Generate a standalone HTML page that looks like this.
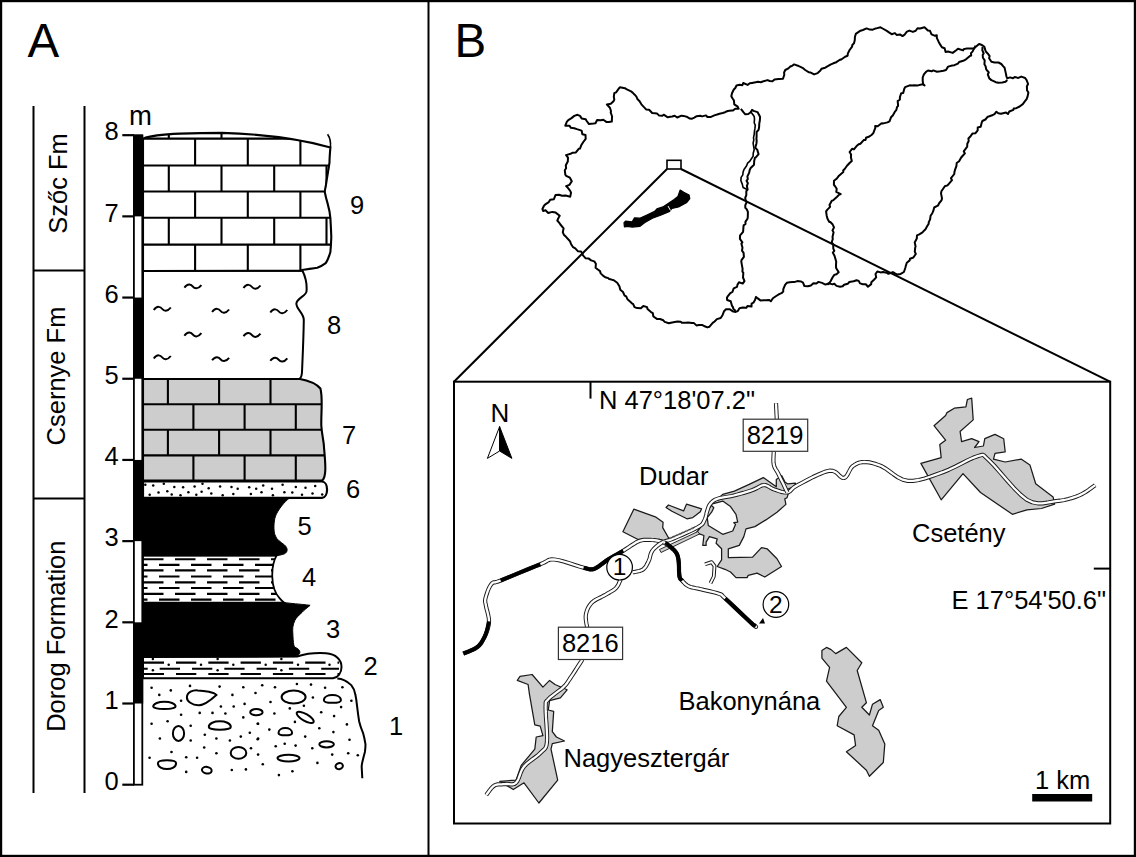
<!DOCTYPE html>
<html><head><meta charset="utf-8"><style>
html,body{margin:0;padding:0;background:#fff;}
svg{display:block;}
</style></head><body>
<svg width="1136" height="857" viewBox="0 0 1136 857">
<rect width="1136" height="857" fill="#fff"/>
<rect x="1" y="1" width="1134" height="855" fill="none" stroke="#000" stroke-width="2.4"/>
<line x1="428.5" y1="0" x2="428.5" y2="857" stroke="#000" stroke-width="2"/>
<text x="27.5" y="57.2" font-family="Liberation Sans, sans-serif" font-size="47.5">A</text>
<text x="454.5" y="57.2" font-family="Liberation Sans, sans-serif" font-size="47.5">B</text>
<g stroke="#000" stroke-width="2" fill="none">
<line x1="33.5" y1="106" x2="33.5" y2="793"/>
<line x1="84.5" y1="106" x2="84.5" y2="793"/>
<line x1="33.5" y1="270.5" x2="84.5" y2="270.5"/>
<line x1="33.5" y1="498.5" x2="84.5" y2="498.5"/>
</g>
<text transform="translate(67.4,183.5) rotate(-90)" text-anchor="middle" font-family="Liberation Sans, sans-serif" font-size="25.5">Szőc Fm</text>
<text transform="translate(65,376) rotate(-90)" text-anchor="middle" font-family="Liberation Sans, sans-serif" font-size="25.5">Csernye Fm</text>
<text transform="translate(65,636.2) rotate(-90)" text-anchor="middle" font-family="Liberation Sans, sans-serif" font-size="25.5">Dorog Formation</text>
<path d="M337.3,678.6 C345,679 349,683 351.4,685.3 C354.5,689 355.3,694.3 355.3,694.3 C356.5,700 357.2,707.1 357.2,707.1 C358,714 359.1,721.2 359.1,721.2 C360.5,727 363,732.8 363,732.8 C364.5,738 365.5,744.3 365.5,744.3 C365.5,748 364.9,752 364.9,752 C363.5,757 362.3,762.3 362.3,762.3 C361.5,766 361.7,767.4 361.7,767.4 L362.3,778.3" fill="none" stroke="#000" stroke-width="2"/>
<path d="M153.20000000000002,706.58 C153.20000000000002,700.1400000000001 175.6,700.1400000000001 175.6,706.58 C175.6,709.8000000000001 153.20000000000002,709.8000000000001 153.20000000000002,706.58 Z" transform="rotate(0 164.4 705.2)" fill="#fff" stroke="#000" stroke-width="2.0"/>
<path d="M186.9,697.5 C187,692 193,690 197.8,690.4 C205,690.6 214,692.5 216.4,694.9 C213,698 205,705 199,705.2 C192,705.5 186.8,701 186.9,697.5 Z" fill="#fff" stroke="#000" stroke-width="2.0"/>
<path d="M208.8,726.89 C208.8,719.4699999999999 230.8,719.4699999999999 230.8,726.89 C230.8,730.5999999999999 208.8,730.5999999999999 208.8,726.89 Z" transform="rotate(0 219.8 725.3)" fill="#fff" stroke="#000" stroke-width="2.0"/>
<ellipse cx="178.5" cy="733.4" rx="5.6" ry="7.5" transform="rotate(0 178.5 733.4)" fill="#fff" stroke="#000" stroke-width="2.0"/>
<ellipse cx="238.5" cy="752.9" rx="7.8" ry="5.9" transform="rotate(0 238.5 752.9)" fill="#fff" stroke="#000" stroke-width="2.0"/>
<path d="M157.9,763.22 C157.9,771.06 176.1,771.06 176.1,763.22 C176.1,759.3 157.9,759.3 157.9,763.22 Z" transform="rotate(0 167 764.9)" fill="#fff" stroke="#000" stroke-width="2.0"/>
<ellipse cx="206.8" cy="770.2" rx="4.9" ry="3.3" transform="rotate(10 206.8 770.2)" fill="#fff" stroke="#000" stroke-width="2.0"/>
<ellipse cx="293.6" cy="697.1" rx="12" ry="6.5" transform="rotate(0 293.6 697.1)" fill="#fff" stroke="#000" stroke-width="2.0"/>
<path d="M323.9,700.2 C323.9,693.2 340.9,693.2 340.9,700.2 C340.9,703.7 323.9,703.7 323.9,700.2 Z" transform="rotate(0 332.4 698.7)" fill="#fff" stroke="#000" stroke-width="2.0"/>
<ellipse cx="256.4" cy="712.2" rx="6.2" ry="3.1" transform="rotate(0 256.4 712.2)" fill="#fff" stroke="#000" stroke-width="2.0"/>
<ellipse cx="305.2" cy="717.4" rx="9.6" ry="3.4" transform="rotate(30 305.2 717.4)" fill="#fff" stroke="#000" stroke-width="2.0"/>
<path d="M278.5,732.88 C278.5,726.44 292.1,726.44 292.1,732.88 C292.1,736.1 278.5,736.1 278.5,732.88 Z" transform="rotate(0 285.3 731.5)" fill="#fff" stroke="#000" stroke-width="2.0"/>
<ellipse cx="326.6" cy="744.3" rx="7.3" ry="3.1" transform="rotate(0 326.6 744.3)" fill="#fff" stroke="#000" stroke-width="2.0"/>
<ellipse cx="288.5" cy="758.1" rx="11" ry="3.4" transform="rotate(0 288.5 758.1)" fill="#fff" stroke="#000" stroke-width="2.0"/>
<ellipse cx="339.2" cy="766.1" rx="3.7" ry="3.0" transform="rotate(-15 339.2 766.1)" fill="#fff" stroke="#000" stroke-width="2.0"/>
<circle cx="151.6" cy="687.8" r="1.3" fill="#000"/>
<circle cx="170.8" cy="690.4" r="1.3" fill="#000"/>
<circle cx="190" cy="685.9" r="1.3" fill="#000"/>
<circle cx="219.6" cy="686.6" r="1.3" fill="#000"/>
<circle cx="243.3" cy="687.2" r="1.3" fill="#000"/>
<circle cx="159.3" cy="694.9" r="1.3" fill="#000"/>
<circle cx="232.4" cy="694.9" r="1.3" fill="#000"/>
<circle cx="255.5" cy="693" r="1.3" fill="#000"/>
<circle cx="181.1" cy="700.7" r="1.3" fill="#000"/>
<circle cx="220.9" cy="706.5" r="1.3" fill="#000"/>
<circle cx="233.7" cy="706.5" r="1.3" fill="#000"/>
<circle cx="244.6" cy="703.9" r="1.3" fill="#000"/>
<circle cx="181.1" cy="714.8" r="1.3" fill="#000"/>
<circle cx="199.7" cy="712.9" r="1.3" fill="#000"/>
<circle cx="212.5" cy="712.9" r="1.3" fill="#000"/>
<circle cx="225.4" cy="713.5" r="1.3" fill="#000"/>
<circle cx="243.3" cy="717.4" r="1.3" fill="#000"/>
<circle cx="151.6" cy="723.8" r="1.3" fill="#000"/>
<circle cx="167.6" cy="721.2" r="1.3" fill="#000"/>
<circle cx="190.7" cy="725.7" r="1.3" fill="#000"/>
<circle cx="258.1" cy="723.8" r="1.3" fill="#000"/>
<circle cx="159.9" cy="738.5" r="1.3" fill="#000"/>
<circle cx="204.8" cy="734.7" r="1.3" fill="#000"/>
<circle cx="190.7" cy="740.5" r="1.3" fill="#000"/>
<circle cx="216.4" cy="738.5" r="1.3" fill="#000"/>
<circle cx="229.9" cy="740.5" r="1.3" fill="#000"/>
<circle cx="240.8" cy="736.6" r="1.3" fill="#000"/>
<circle cx="249.8" cy="732.8" r="1.3" fill="#000"/>
<circle cx="258.1" cy="738.5" r="1.3" fill="#000"/>
<circle cx="204.2" cy="747.5" r="1.3" fill="#000"/>
<circle cx="171.5" cy="752" r="1.3" fill="#000"/>
<circle cx="216.4" cy="753.3" r="1.3" fill="#000"/>
<circle cx="251" cy="748.2" r="1.3" fill="#000"/>
<circle cx="258.1" cy="754.6" r="1.3" fill="#000"/>
<circle cx="149.6" cy="757.8" r="1.3" fill="#000"/>
<circle cx="186.2" cy="757.2" r="1.3" fill="#000"/>
<circle cx="197.1" cy="757.8" r="1.3" fill="#000"/>
<circle cx="186.2" cy="771.9" r="1.3" fill="#000"/>
<circle cx="231.8" cy="770" r="1.3" fill="#000"/>
<circle cx="245.9" cy="769.4" r="1.3" fill="#000"/>
<circle cx="262.2" cy="685.3" r="1.3" fill="#000"/>
<circle cx="275" cy="687.2" r="1.3" fill="#000"/>
<circle cx="296.9" cy="684" r="1.3" fill="#000"/>
<circle cx="311" cy="684.6" r="1.3" fill="#000"/>
<circle cx="325.1" cy="687.8" r="1.3" fill="#000"/>
<circle cx="342.4" cy="687.2" r="1.3" fill="#000"/>
<circle cx="312.9" cy="697.5" r="1.3" fill="#000"/>
<circle cx="351.4" cy="700.7" r="1.3" fill="#000"/>
<circle cx="270.5" cy="702" r="1.3" fill="#000"/>
<circle cx="303.9" cy="705.8" r="1.3" fill="#000"/>
<circle cx="289.8" cy="708.4" r="1.3" fill="#000"/>
<circle cx="341.1" cy="707.1" r="1.3" fill="#000"/>
<circle cx="274.4" cy="713.5" r="1.3" fill="#000"/>
<circle cx="321.2" cy="712.2" r="1.3" fill="#000"/>
<circle cx="334.1" cy="716.1" r="1.3" fill="#000"/>
<circle cx="257.7" cy="723.8" r="1.3" fill="#000"/>
<circle cx="294.9" cy="721.9" r="1.3" fill="#000"/>
<circle cx="346.9" cy="724.4" r="1.3" fill="#000"/>
<circle cx="269.3" cy="729.6" r="1.3" fill="#000"/>
<circle cx="319.3" cy="728.3" r="1.3" fill="#000"/>
<circle cx="333.4" cy="732.1" r="1.3" fill="#000"/>
<circle cx="257.7" cy="739.2" r="1.3" fill="#000"/>
<circle cx="305.2" cy="736.6" r="1.3" fill="#000"/>
<circle cx="349.5" cy="739.8" r="1.3" fill="#000"/>
<circle cx="275.7" cy="746.2" r="1.3" fill="#000"/>
<circle cx="284.7" cy="743.7" r="1.3" fill="#000"/>
<circle cx="295.6" cy="745.6" r="1.3" fill="#000"/>
<circle cx="312.3" cy="748.2" r="1.3" fill="#000"/>
<circle cx="332.2" cy="754.6" r="1.3" fill="#000"/>
<circle cx="348.2" cy="753.3" r="1.3" fill="#000"/>
<circle cx="357.8" cy="755.2" r="1.3" fill="#000"/>
<circle cx="262.8" cy="764.2" r="1.3" fill="#000"/>
<circle cx="317.4" cy="762.9" r="1.3" fill="#000"/>
<circle cx="292.4" cy="771.3" r="1.3" fill="#000"/>
<circle cx="278.9" cy="775.1" r="1.3" fill="#000"/>
<path d="M143,657 L297,656.5 C305,654 318,652.8 326,653.3 C336,654 341.5,660 341.5,667 C341.5,673 338,677.3 333,678.3 L143,678.3 Z" fill="#fff" stroke="#000" stroke-width="2"/>
<clipPath id="c2"><path d="M143,657 L297,656.5 C305,654 318,652.8 326,653.3 C336,654 341.5,660 341.5,667 C341.5,673 338,677.3 333,678.3 L143,678.3 Z"/></clipPath>
<g stroke="#000" stroke-width="2.1" clip-path="url(#c2)">
<line x1="143.7" y1="662.6" x2="164.0" y2="662.6"/>
<line x1="176.0" y1="662.6" x2="196.3" y2="662.6"/>
<line x1="208.3" y1="662.6" x2="228.6" y2="662.6"/>
<line x1="240.6" y1="662.6" x2="260.9" y2="662.6"/>
<line x1="272.9" y1="662.6" x2="293.2" y2="662.6"/>
<line x1="305.2" y1="662.6" x2="325.5" y2="662.6"/>
<line x1="337.5" y1="662.6" x2="339.0" y2="662.6"/>
<line x1="143.0" y1="668.7" x2="147.7" y2="668.7"/>
<line x1="159.7" y1="668.7" x2="180.0" y2="668.7"/>
<line x1="192.0" y1="668.7" x2="212.3" y2="668.7"/>
<line x1="224.3" y1="668.7" x2="244.6" y2="668.7"/>
<line x1="256.6" y1="668.7" x2="276.9" y2="668.7"/>
<line x1="288.9" y1="668.7" x2="309.2" y2="668.7"/>
<line x1="321.2" y1="668.7" x2="339.0" y2="668.7"/>
<line x1="143.7" y1="674" x2="164.0" y2="674"/>
<line x1="176.0" y1="674" x2="196.3" y2="674"/>
<line x1="208.3" y1="674" x2="228.6" y2="674"/>
<line x1="240.6" y1="674" x2="260.9" y2="674"/>
<line x1="272.9" y1="674" x2="293.2" y2="674"/>
<line x1="305.2" y1="674" x2="325.5" y2="674"/>
<line x1="337.5" y1="674" x2="339.0" y2="674"/>
</g>
<circle cx="152.9" cy="658.9" r="1.25" fill="#000"/>
<circle cx="217.6" cy="658.9" r="1.25" fill="#000"/>
<circle cx="281.4" cy="658.9" r="1.25" fill="#000"/>
<circle cx="168.7" cy="664.8" r="1.25" fill="#000"/>
<circle cx="201" cy="664.8" r="1.25" fill="#000"/>
<circle cx="233.3" cy="664.8" r="1.25" fill="#000"/>
<circle cx="265.7" cy="664.8" r="1.25" fill="#000"/>
<circle cx="298" cy="664.8" r="1.25" fill="#000"/>
<circle cx="329.5" cy="664.8" r="1.25" fill="#000"/>
<circle cx="152.9" cy="670.3" r="1.25" fill="#000"/>
<circle cx="217.6" cy="670.3" r="1.25" fill="#000"/>
<circle cx="281.4" cy="670.3" r="1.25" fill="#000"/>
<path d="M143,602.4 L283.6,602.4 C290,603.5 300,604 310.1,605.3 C307,608 304,610 302,612.4 C298,616 296,618 294.8,620.6 C292.5,625 292.5,630 292.8,632.9 C293,638 293.3,642 293.8,645.1 C294.3,647 295.5,647.5 296.8,648.2 C299.5,649.5 300.5,652 299.5,653.8 C298.5,655.2 296,656.3 294.8,656.6 L143,657 Z" fill="#000" stroke="#000" stroke-width="1"/>
<path d="M143,555.6 L276.5,555.6 C273,562 272,570 272.3,577 C272.5,586 274,592 279.5,598.2 C281,600 282.5,601.5 284,602.6 L143,602.6 Z" fill="#fff" stroke="#000" stroke-width="1.8"/>
<clipPath id="c4"><path d="M143,555.6 L276.5,555.6 C273,562 272,570 272.3,577 C272.5,586 274,592 279.5,598.2 C281,600 282.5,601.5 284,602.6 L143,602.6 Z"/></clipPath>
<g stroke="#000" stroke-width="2.1" clip-path="url(#c4)">
<line x1="143" y1="559.3" x2="163.5" y2="559.3"/>
<line x1="175" y1="559.3" x2="195.5" y2="559.3"/>
<line x1="207" y1="559.3" x2="227.5" y2="559.3"/>
<line x1="239" y1="559.3" x2="259.5" y2="559.3"/>
<line x1="271" y1="559.3" x2="291.5" y2="559.3"/>
<line x1="143" y1="564.9" x2="147.5" y2="564.9"/>
<line x1="159" y1="564.9" x2="179.5" y2="564.9"/>
<line x1="191" y1="564.9" x2="211.5" y2="564.9"/>
<line x1="223" y1="564.9" x2="243.5" y2="564.9"/>
<line x1="255" y1="564.9" x2="275.5" y2="564.9"/>
<line x1="143" y1="570.4" x2="163.5" y2="570.4"/>
<line x1="175" y1="570.4" x2="195.5" y2="570.4"/>
<line x1="207" y1="570.4" x2="227.5" y2="570.4"/>
<line x1="239" y1="570.4" x2="259.5" y2="570.4"/>
<line x1="271" y1="570.4" x2="291.5" y2="570.4"/>
<line x1="143" y1="576.5" x2="147.5" y2="576.5"/>
<line x1="159" y1="576.5" x2="179.5" y2="576.5"/>
<line x1="191" y1="576.5" x2="211.5" y2="576.5"/>
<line x1="223" y1="576.5" x2="243.5" y2="576.5"/>
<line x1="255" y1="576.5" x2="275.5" y2="576.5"/>
<line x1="143" y1="582.4" x2="163.5" y2="582.4"/>
<line x1="175" y1="582.4" x2="195.5" y2="582.4"/>
<line x1="207" y1="582.4" x2="227.5" y2="582.4"/>
<line x1="239" y1="582.4" x2="259.5" y2="582.4"/>
<line x1="271" y1="582.4" x2="291.5" y2="582.4"/>
<line x1="143" y1="588" x2="147.5" y2="588"/>
<line x1="159" y1="588" x2="179.5" y2="588"/>
<line x1="191" y1="588" x2="211.5" y2="588"/>
<line x1="223" y1="588" x2="243.5" y2="588"/>
<line x1="255" y1="588" x2="275.5" y2="588"/>
<line x1="143" y1="593.9" x2="163.5" y2="593.9"/>
<line x1="175" y1="593.9" x2="195.5" y2="593.9"/>
<line x1="207" y1="593.9" x2="227.5" y2="593.9"/>
<line x1="239" y1="593.9" x2="259.5" y2="593.9"/>
<line x1="271" y1="593.9" x2="291.5" y2="593.9"/>
<line x1="143" y1="599.6" x2="147.5" y2="599.6"/>
<line x1="159" y1="599.6" x2="179.5" y2="599.6"/>
<line x1="191" y1="599.6" x2="211.5" y2="599.6"/>
<line x1="223" y1="599.6" x2="243.5" y2="599.6"/>
<line x1="255" y1="599.6" x2="275.5" y2="599.6"/>
</g>
<path d="M143,497.6 L290,497.6 C284,502 278,510 275.5,516 C273.5,522 273.5,531 275,535 C276.5,540 281,542 284.5,545 C288,548 288,552 284.5,553.8 C281,555 278.5,555.4 276.5,555.8 L143,555.8 Z" fill="#000" stroke="#000" stroke-width="1"/>
<path d="M143,481.5 L322,481.5 C329,482 328.5,497.5 322,497.9 L143,497.9 Z" fill="#fff" stroke="#000" stroke-width="2.2"/>
<circle cx="145.3" cy="484.7" r="1.25" fill="#000"/>
<circle cx="153.2" cy="485.6" r="1.25" fill="#000"/>
<circle cx="163.8" cy="483.8" r="1.25" fill="#000"/>
<circle cx="174.3" cy="487" r="1.25" fill="#000"/>
<circle cx="183.1" cy="487.3" r="1.25" fill="#000"/>
<circle cx="194.6" cy="486.4" r="1.25" fill="#000"/>
<circle cx="202.5" cy="483.8" r="1.25" fill="#000"/>
<circle cx="208.7" cy="488.2" r="1.25" fill="#000"/>
<circle cx="220.1" cy="486.4" r="1.25" fill="#000"/>
<circle cx="231.5" cy="487" r="1.25" fill="#000"/>
<circle cx="237.7" cy="488.7" r="1.25" fill="#000"/>
<circle cx="249.2" cy="487.3" r="1.25" fill="#000"/>
<circle cx="256.2" cy="488.7" r="1.25" fill="#000"/>
<circle cx="263.2" cy="485.6" r="1.25" fill="#000"/>
<circle cx="272" cy="488.7" r="1.25" fill="#000"/>
<circle cx="282.6" cy="484.7" r="1.25" fill="#000"/>
<circle cx="295.8" cy="487" r="1.25" fill="#000"/>
<circle cx="305.5" cy="487.7" r="1.25" fill="#000"/>
<circle cx="315.2" cy="485.9" r="1.25" fill="#000"/>
<circle cx="149.7" cy="494.7" r="1.25" fill="#000"/>
<circle cx="158.5" cy="492.6" r="1.25" fill="#000"/>
<circle cx="167.3" cy="491.2" r="1.25" fill="#000"/>
<circle cx="171.7" cy="494.4" r="1.25" fill="#000"/>
<circle cx="180.5" cy="495.2" r="1.25" fill="#000"/>
<circle cx="188.4" cy="492.3" r="1.25" fill="#000"/>
<circle cx="196.3" cy="494.7" r="1.25" fill="#000"/>
<circle cx="201.6" cy="491.7" r="1.25" fill="#000"/>
<circle cx="211.3" cy="493.5" r="1.25" fill="#000"/>
<circle cx="222.7" cy="495.2" r="1.25" fill="#000"/>
<circle cx="233.3" cy="494" r="1.25" fill="#000"/>
<circle cx="250.9" cy="494" r="1.25" fill="#000"/>
<circle cx="261.5" cy="492.3" r="1.25" fill="#000"/>
<circle cx="272.9" cy="495.2" r="1.25" fill="#000"/>
<circle cx="284.4" cy="492.3" r="1.25" fill="#000"/>
<circle cx="292.3" cy="492.6" r="1.25" fill="#000"/>
<circle cx="302" cy="494.7" r="1.25" fill="#000"/>
<circle cx="312.5" cy="493.5" r="1.25" fill="#000"/>
<circle cx="322.2" cy="494.4" r="1.25" fill="#000"/>
<clipPath id="c7"><path d="M143,378.7 L299,378.7 C306,380 316,383 320.4,388.5 C323,398 321,412 321.3,425.5 C322,436 324,442 324,447.6 C325,458 326,468 325,473.5 C324.5,477 323,480 322,480.5 L143,480.5 Z"/></clipPath>
<path d="M143,378.7 L299,378.7 C306,380 316,383 320.4,388.5 C323,398 321,412 321.3,425.5 C322,436 324,442 324,447.6 C325,458 326,468 325,473.5 C324.5,477 323,480 322,480.5 L143,480.5 Z" fill="#cdcdcd" stroke="none"/>
<g stroke="#000" stroke-width="2.1" clip-path="url(#c7)">
<line x1="143" y1="404.2" x2="340" y2="404.2"/>
<line x1="143" y1="429.7" x2="340" y2="429.7"/>
<line x1="143" y1="455.4" x2="340" y2="455.4"/>
<line x1="167.9" y1="378.7" x2="167.9" y2="404.2"/>
<line x1="219.1" y1="378.7" x2="219.1" y2="404.2"/>
<line x1="270.5" y1="378.7" x2="270.5" y2="404.2"/>
<line x1="193.4" y1="404.2" x2="193.4" y2="429.7"/>
<line x1="244.6" y1="404.2" x2="244.6" y2="429.7"/>
<line x1="295.8" y1="404.2" x2="295.8" y2="429.7"/>
<line x1="167.9" y1="429.7" x2="167.9" y2="455.4"/>
<line x1="219.1" y1="429.7" x2="219.1" y2="455.4"/>
<line x1="270.5" y1="429.7" x2="270.5" y2="455.4"/>
<line x1="193.4" y1="455.4" x2="193.4" y2="480.5"/>
<line x1="244.6" y1="455.4" x2="244.6" y2="480.5"/>
<line x1="295.8" y1="455.4" x2="295.8" y2="480.5"/>
</g>
<path d="M143,378.7 L299,378.7 C306,380 316,383 320.4,388.5 C323,398 321,412 321.3,425.5 C322,436 324,442 324,447.6 C325,458 326,468 325,473.5 C324.5,477 323,480 322,480.5 L143,480.5 Z" fill="none" stroke="#000" stroke-width="2.1"/>
<path d="M143,270.7 L302.5,270.8 C305.5,277 307,286 306.5,291.5 C306,296 297,298 296.4,303.4 C296,309 303.8,313 303.8,320 C303.5,340 302.5,360 302,372 C301.8,376 300.5,378.5 299,379 L143,379 Z" fill="#fff" stroke="#000" stroke-width="2"/>
<path d="M184.4,287.6 C187.9,282.6 191.4,284.6 192.9,286.6 C194.4,288.6 197.9,289.6 201.4,285.1" fill="none" stroke="#000" stroke-width="2.0"/>
<path d="M243.5,288 C247,283 250.5,285 252,287 C253.5,289 257,290 260.5,285.5" fill="none" stroke="#000" stroke-width="2.0"/>
<path d="M153.8,310 C157.3,305 160.8,307 162.3,309 C163.8,311 167.3,312 170.8,307.5" fill="none" stroke="#000" stroke-width="2.0"/>
<path d="M212.1,312 C215.6,307 219.1,309 220.6,311 C222.1,313 225.6,314 229.1,309.5" fill="none" stroke="#000" stroke-width="2.0"/>
<path d="M270.3,312.5 C273.8,307.5 277.3,309.5 278.8,311.5 C280.3,313.5 283.8,314.5 287.3,310.0" fill="none" stroke="#000" stroke-width="2.0"/>
<path d="M184.4,335.7 C187.9,330.7 191.4,332.7 192.9,334.7 C194.4,336.7 197.9,337.7 201.4,333.2" fill="none" stroke="#000" stroke-width="2.0"/>
<path d="M243.5,336.2 C247,331.2 250.5,333.2 252,335.2 C253.5,337.2 257,338.2 260.5,333.7" fill="none" stroke="#000" stroke-width="2.0"/>
<path d="M153.8,358.5 C157.3,353.5 160.8,355.5 162.3,357.5 C163.8,359.5 167.3,360.5 170.8,356.0" fill="none" stroke="#000" stroke-width="2.0"/>
<path d="M212.1,360.3 C215.6,355.3 219.1,357.3 220.6,359.3 C222.1,361.3 225.6,362.3 229.1,357.8" fill="none" stroke="#000" stroke-width="2.0"/>
<path d="M270.3,360.8 C273.8,355.8 277.3,357.8 278.8,359.8 C280.3,361.8 283.8,362.8 287.3,358.3" fill="none" stroke="#000" stroke-width="2.0"/>
<clipPath id="c9"><path d="M143,138.6 C152,135 165,134.2 180,133.6 C195,133.1 210,132.9 222,132.9 C260,134 300,139 330.4,147.4 C330,152 329.5,158 329.5,162.3 C328.5,170 327.6,173.5 325.7,186.6 C324.8,190 324.8,192.2 324.8,192.2 C326,198 327.6,203.4 327.6,203.4 C330,212 330.4,218.4 330.4,218.4 C331,228 331.3,237 331.3,237 C331,246 330.4,252 330.4,252 C328,260 325.7,263.2 325.7,263.2 C322,266 317.3,267.8 317.3,267.8 C310,269 300.5,269.7 300.5,270.7 L143,271 Z"/></clipPath>
<path d="M143,138.6 C152,135 165,134.2 180,133.6 C195,133.1 210,132.9 222,132.9 C260,134 300,139 330.4,147.4 C330,152 329.5,158 329.5,162.3 C328.5,170 327.6,173.5 325.7,186.6 C324.8,190 324.8,192.2 324.8,192.2 C326,198 327.6,203.4 327.6,203.4 C330,212 330.4,218.4 330.4,218.4 C331,228 331.3,237 331.3,237 C331,246 330.4,252 330.4,252 C328,260 325.7,263.2 325.7,263.2 C322,266 317.3,267.8 317.3,267.8 C310,269 300.5,269.7 300.5,270.7 L143,271 Z" fill="#fff" stroke="none"/>
<g stroke="#000" stroke-width="2.1" clip-path="url(#c9)">
<line x1="143" y1="138.6" x2="340" y2="138.6"/>
<line x1="143" y1="165.5" x2="340" y2="165.5"/>
<line x1="143" y1="191.5" x2="340" y2="191.5"/>
<line x1="143" y1="217.7" x2="340" y2="217.7"/>
<line x1="143" y1="244.6" x2="340" y2="244.6"/>
<line x1="168.8" y1="125" x2="168.8" y2="138.9"/>
<line x1="221.5" y1="125" x2="221.5" y2="138.9"/>
<line x1="274.2" y1="125" x2="274.2" y2="138.9"/>
<line x1="195.1" y1="138.6" x2="195.1" y2="165.5"/>
<line x1="247.8" y1="138.6" x2="247.8" y2="165.5"/>
<line x1="300.4" y1="138.6" x2="300.4" y2="165.5"/>
<line x1="168.8" y1="165.5" x2="168.8" y2="191.5"/>
<line x1="221.5" y1="165.5" x2="221.5" y2="191.5"/>
<line x1="274.2" y1="165.5" x2="274.2" y2="191.5"/>
<line x1="326.5" y1="165.5" x2="326.5" y2="191.5"/>
<line x1="195.1" y1="191.5" x2="195.1" y2="217.7"/>
<line x1="247.8" y1="191.5" x2="247.8" y2="217.7"/>
<line x1="300.4" y1="191.5" x2="300.4" y2="217.7"/>
<line x1="168.8" y1="217.7" x2="168.8" y2="244.6"/>
<line x1="221.5" y1="217.7" x2="221.5" y2="244.6"/>
<line x1="274.2" y1="217.7" x2="274.2" y2="244.6"/>
<line x1="326.5" y1="217.7" x2="326.5" y2="244.6"/>
<line x1="195.1" y1="244.6" x2="195.1" y2="270.8"/>
<line x1="247.8" y1="244.6" x2="247.8" y2="270.8"/>
<line x1="300.4" y1="244.6" x2="300.4" y2="270.8"/>
</g>
<path d="M143,138.6 C152,135 165,134.2 180,133.6 C195,133.1 210,132.9 222,132.9 C260,134 300,139 330.4,147.4 C330,152 329.5,158 329.5,162.3 C328.5,170 327.6,173.5 325.7,186.6 C324.8,190 324.8,192.2 324.8,192.2 C326,198 327.6,203.4 327.6,203.4 C330,212 330.4,218.4 330.4,218.4 C331,228 331.3,237 331.3,237 C331,246 330.4,252 330.4,252 C328,260 325.7,263.2 325.7,263.2 C322,266 317.3,267.8 317.3,267.8 C310,269 300.5,269.7 300.5,270.7 L143,271 Z" fill="none" stroke="#000" stroke-width="2.1"/>
<path d="M327.6,134.3 C330,138 331,142 330.4,147" fill="none" stroke="#000" stroke-width="1.6"/>
<rect x="133.9" y="135.2" width="8.4" height="649.5" fill="#fff" stroke="#000" stroke-width="1.8"/>
<rect x="133" y="135.18000000000006" width="10.2" height="81.19" fill="#000"/>
<rect x="133" y="297.56000000000006" width="10.2" height="81.19" fill="#000"/>
<rect x="133" y="459.94000000000005" width="10.2" height="81.19" fill="#000"/>
<rect x="133" y="622.32" width="10.2" height="81.19" fill="#000"/>
<g stroke="#000" stroke-width="2.2">
<line x1="122.3" y1="784.7" x2="134" y2="784.7"/>
<line x1="122.3" y1="703.51" x2="134" y2="703.51"/>
<line x1="122.3" y1="622.32" x2="134" y2="622.32"/>
<line x1="122.3" y1="541.1300000000001" x2="134" y2="541.1300000000001"/>
<line x1="122.3" y1="459.94000000000005" x2="134" y2="459.94000000000005"/>
<line x1="122.3" y1="378.75000000000006" x2="134" y2="378.75000000000006"/>
<line x1="122.3" y1="297.56000000000006" x2="134" y2="297.56000000000006"/>
<line x1="122.3" y1="216.37000000000012" x2="134" y2="216.37000000000012"/>
<line x1="122.3" y1="135.18000000000006" x2="134" y2="135.18000000000006"/>
</g>
<text x="111.5" y="790.0" text-anchor="middle" font-family="Liberation Sans, sans-serif" font-size="25.5">0</text>
<text x="111.5" y="708.81" text-anchor="middle" font-family="Liberation Sans, sans-serif" font-size="25.5">1</text>
<text x="111.5" y="627.62" text-anchor="middle" font-family="Liberation Sans, sans-serif" font-size="25.5">2</text>
<text x="111.5" y="546.4300000000001" text-anchor="middle" font-family="Liberation Sans, sans-serif" font-size="25.5">3</text>
<text x="111.5" y="465.24000000000007" text-anchor="middle" font-family="Liberation Sans, sans-serif" font-size="25.5">4</text>
<text x="111.5" y="384.05000000000007" text-anchor="middle" font-family="Liberation Sans, sans-serif" font-size="25.5">5</text>
<text x="111.5" y="302.86000000000007" text-anchor="middle" font-family="Liberation Sans, sans-serif" font-size="25.5">6</text>
<text x="111.5" y="221.67000000000013" text-anchor="middle" font-family="Liberation Sans, sans-serif" font-size="25.5">7</text>
<text x="111.5" y="140.48000000000008" text-anchor="middle" font-family="Liberation Sans, sans-serif" font-size="25.5">8</text>
<text x="140.5" y="125" text-anchor="middle" font-family="Liberation Sans, sans-serif" font-size="27.5">m</text>
<text x="357" y="214" text-anchor="middle" font-family="Liberation Sans, sans-serif" font-size="25.5">9</text>
<text x="334" y="334" text-anchor="middle" font-family="Liberation Sans, sans-serif" font-size="25.5">8</text>
<text x="349" y="444" text-anchor="middle" font-family="Liberation Sans, sans-serif" font-size="25.5">7</text>
<text x="353" y="498" text-anchor="middle" font-family="Liberation Sans, sans-serif" font-size="25.5">6</text>
<text x="304.7" y="535" text-anchor="middle" font-family="Liberation Sans, sans-serif" font-size="25.5">5</text>
<text x="309" y="586" text-anchor="middle" font-family="Liberation Sans, sans-serif" font-size="25.5">4</text>
<text x="333" y="638" text-anchor="middle" font-family="Liberation Sans, sans-serif" font-size="25.5">3</text>
<text x="370.5" y="674.5" text-anchor="middle" font-family="Liberation Sans, sans-serif" font-size="25.5">2</text>
<text x="396" y="735" text-anchor="middle" font-family="Liberation Sans, sans-serif" font-size="25.5">1</text>
<polygon points="565.3,125.7 566.9,121.6 568.7,119.8 571.5,118.1 574.3,115.9 577.5,114.8 580.0,115.9 581.6,118.4 585.7,119.2 586.7,121.0 589.0,124.1 593.5,123.6 595.5,123.3 597.1,120.0 600.9,120.3 603.3,119.7 606.3,121.9 608.9,121.9 611.8,121.6 612.0,117.8 612.1,116.5 610.7,112.4 611.0,111.0 609.9,107.7 606.9,104.5 610.8,103.8 613.5,101.2 614.3,99.6 613.8,96.6 614.3,93.1 616.1,92.3 619.1,88.2 620.0,87.3 624.9,88.2 626.4,89.1 631.0,91.3 632.6,92.6 634.7,94.7 636.4,96.6 637.6,99.3 639.6,101.2 641.4,104.3 643.3,106.4 645.4,108.6 646.1,109.4 649.1,109.7 652.2,113.0 654.8,113.2 656.9,113.4 658.9,115.4 662.4,115.8 663.7,114.7 667.8,117.3 668.5,117.1 672.2,116.5 674.7,115.7 677.2,117.5 681.5,115.7 683.5,115.9 686.6,116.7 689.8,118.6 691.6,118.8 694.3,117.6 696.7,116.2 700.3,115.8 702.1,116.4 706.0,115.4 707.4,117.0 711.0,116.9 714.3,115.4 718.0,114.2 719.5,113.7 722.7,113.0 725.1,112.2 727.6,111.0 731.5,110.5 733.0,110.5 735.2,108.8 738.7,108.8 737.7,106.6 734.3,104.3 733.9,100.3 732.9,99.0 731.3,96.3 732.0,93.2 733.8,89.5 735.3,88.0 736.5,85.5 739.6,84.7 742.4,85.2 743.2,83.0 747.6,84.9 749.8,83.3 752.0,82.9 755.7,82.2 758.0,81.8 760.8,82.2 763.5,81.3 767.6,80.1 769.7,81.0 772.5,81.2 774.5,79.4 778.5,79.0 779.5,79.1 783.0,78.8 784.3,74.8 784.1,72.5 785.3,70.0 788.4,68.4 790.6,66.3 791.5,66.2 794.1,64.4 797.9,65.7 798.9,66.2 802.5,67.8 805.2,70.0 809.0,72.3 810.3,72.4 814.1,74.4 817.7,73.1 820.4,70.6 821.5,68.8 825.2,67.7 828.7,65.7 830.4,64.7 833.3,63.3 836.3,62.2 840.3,59.5 840.9,59.7 845.1,56.7 847.6,55.7 847.9,53.4 849.6,50.0 852.1,46.7 852.3,44.9 854.0,43.3 854.8,40.0 854.9,37.1 855.8,33.9 857.6,32.6 860.5,30.7 862.9,30.0 866.6,28.4 869.8,29.6 872.8,29.7 875.7,28.4 876.3,28.4 880.5,27.3 882.6,28.5 886.8,30.9 889.3,32.6 891.7,34.2 894.9,33.1 896.6,34.9 899.9,34.4 902.5,36.1 904.6,34.6 906.9,31.7 909.4,30.6 912.9,31.9 915.7,30.8 917.5,28.2 920.1,28.5 924.5,27.3 927.9,30.5 930.0,30.8 931.5,34.4 934.5,35.7 936.8,35.2 936.8,37.8 938.6,41.7 940.4,44.9 941.9,47.2 944.6,48.3 945.6,52.0 948.0,51.5 952.7,52.9 956.2,50.2 958.0,48.7 963.1,50.4 963.6,49.2 967.0,48.4 970.3,48.5 973.8,48.5 976.1,46.6 979.1,44.0 982.0,45.0 984.4,46.7 984.8,48.6 985.8,51.5 987.9,53.7 989.6,56.1 989.1,58.2 991.4,61.7 994.6,62.4 998.5,62.5 1001.3,64.0 1003.3,66.4 1004.6,67.8 1005.1,70.1 1005.9,73.6 1006.4,76.3 1007.3,78.4 1010.0,77.4 1013.0,78.2 1014.6,77.1 1018.3,77.9 1021.3,76.6 1025.1,78.0 1026.6,80.1 1028.1,84.0 1026.9,86.2 1027.0,90.2 1028.4,92.5 1027.6,96.4 1026.8,98.8 1024.8,101.3 1022.8,104.1 1019.6,106.5 1016.2,108.2 1013.7,108.6 1013.4,109.8 1009.3,111.5 1008.0,114.0 1006.1,112.6 1001.0,113.7 998.3,113.2 996.4,111.7 994.5,114.1 992.9,115.0 989.4,116.3 987.8,116.7 985.4,119.5 982.4,121.0 981.8,122.3 980.7,126.8 977.7,127.5 977.7,130.3 975.5,133.2 972.4,133.6 970.1,136.8 968.4,138.5 968.7,141.0 967.3,143.7 967.2,146.7 965.6,148.8 963.8,151.4 964.9,153.4 962.5,156.0 961.2,157.5 959.1,161.3 956.7,163.0 956.4,166.1 955.1,169.6 954.4,172.3 954.3,174.0 951.0,178.2 952.0,180.2 949.7,182.8 947.5,185.4 944.8,186.3 942.8,189.2 941.5,191.0 941.0,193.4 942.0,198.4 941.5,200.3 939.3,203.0 938.0,205.5 936.8,206.1 934.2,207.5 933.3,210.9 932.3,213.2 930.6,215.7 930.1,219.3 928.7,222.4 928.7,223.7 927.1,226.3 925.5,229.2 924.0,230.7 922.5,232.4 919.3,234.4 917.0,235.4 916.8,238.6 914.7,242.4 915.6,246.5 915.2,247.5 914.8,251.7 915.8,254.0 913.4,257.5 910.0,258.7 909.7,260.4 906.8,262.7 905.7,266.2 905.3,268.0 903.9,272.0 900.7,273.9 897.3,274.6 894.6,273.2 892.9,272.1 888.4,273.8 886.7,272.7 883.0,271.9 880.6,272.4 877.3,271.5 875.5,274.0 876.2,277.4 874.0,279.7 871.3,282.3 871.2,284.1 868.0,286.7 865.8,284.3 862.8,284.2 860.0,283.4 858.7,280.9 856.6,280.2 853.6,281.3 849.3,282.0 847.7,283.8 844.1,284.8 842.7,286.3 840.0,286.7 836.5,285.9 834.3,283.7 832.6,284.4 828.5,283.3 825.5,284.6 822.0,282.9 818.5,281.9 816.4,283.5 813.4,283.3 810.9,285.5 807.9,286.3 804.4,286.0 803.0,282.7 801.1,281.5 797.3,281.1 794.2,282.1 792.3,282.1 789.8,282.3 786.8,282.8 785.1,284.9 783.3,289.2 783.2,291.6 781.5,293.2 779.2,294.2 776.2,296.0 772.9,298.3 770.9,301.3 769.2,299.9 765.7,300.2 763.7,300.2 760.4,300.4 757.8,298.4 756.0,296.9 755.0,300.0 753.4,302.7 751.6,303.6 751.5,306.6 747.5,305.9 746.4,307.8 742.7,307.5 739.5,308.2 737.8,311.1 735.7,311.9 733.3,311.6 729.5,309.2 726.0,309.2 724.0,311.3 722.5,315.2 720.7,318.0 716.9,319.1 714.6,321.5 712.7,322.9 709.3,326.8 707.4,327.4 704.0,326.0 702.5,325.1 698.9,325.0 696.4,325.4 694.0,323.1 691.8,323.0 688.2,322.4 685.8,322.8 681.6,322.7 680.7,321.7 677.6,321.5 674.7,322.0 670.9,322.8 668.8,323.3 664.7,321.9 663.3,320.3 660.0,319.0 656.9,318.9 653.4,316.5 652.8,313.2 651.0,312.1 647.5,309.1 647.1,307.1 643.3,306.0 640.9,308.2 637.2,308.1 634.5,307.1 633.2,304.2 631.9,303.4 630.3,301.7 627.4,299.2 626.2,296.4 624.6,295.6 623.0,292.0 620.3,289.8 619.4,286.2 617.2,282.7 613.8,280.3 611.4,279.6 609.2,279.1 608.3,278.1 605.2,277.2 603.0,275.6 600.7,273.4 600.0,271.1 597.5,269.3 595.6,267.7 595.9,263.7 594.3,261.4 591.1,260.4 588.8,258.6 585.7,258.3 582.8,255.1 582.5,253.5 580.9,251.4 577.8,251.2 575.3,248.4 573.1,247.2 571.0,244.0 570.2,241.7 569.1,240.2 565.8,236.6 564.0,234.9 562.8,232.3 563.6,228.3 560.4,224.5 559.3,222.9 557.3,220.5 559.0,216.9 559.7,215.7 555.7,212.6 552.3,211.9 548.2,213.0 545.5,210.3 543.1,211.0 542.4,209.0 544.0,205.7 545.7,204.1 548.8,202.1 550.2,199.7 553.9,199.2 555.5,195.1 559.0,194.8 562.1,195.7 565.4,195.5 566.6,195.8 570.2,196.7 571.0,192.7 570.2,190.8 567.3,187.2 566.1,186.1 569.4,184.9 571.8,181.2 569.9,177.7 566.2,175.8 565.3,174.7 564.8,170.2 566.1,168.2 565.8,165.3 567.8,161.6 568.0,157.6 566.1,155.1 570.6,153.8 572.7,152.7 575.9,152.4 578.7,148.8 580.0,148.6 581.1,145.6 583.3,142.0 585.7,138.8 585.5,135.0 582.4,134.2 581.6,130.6 576.9,129.1 574.3,128.2 570.9,127.8 569.4,125.7 565.3,125.7" fill="none" stroke="#000" stroke-width="2.0" stroke-linejoin="round"/>
<polyline points="740.9,108.8 743.4,112.2 745.3,114.3 748.3,114.0 750.4,112.5 752.0,109.9 753.5,110.9 757.5,112.1 759.4,115.5 760.1,117.0 759.8,121.0 759.3,123.3 759.1,127.1 758.6,129.8 756.6,132.0 756.6,136.8 756.4,138.7 756.7,140.8 756.4,143.7 755.3,147.6 757.3,149.9 758.6,154.2 755.8,157.4 754.9,157.9 754.2,160.9 754.0,164.8 750.7,168.0 749.8,169.7 749.1,172.9 747.4,176.4 747.8,179.2 746.5,180.8 747.9,183.2 746.9,185.9 747.6,189.7 746.3,191.2 746.3,195.1 745.2,197.9 745.6,199.5 746.5,202.6 745.3,205.2 745.3,207.8 746.8,209.4 747.9,211.9 747.8,216.7 747.6,218.5 745.4,221.9 745.5,224.0 743.6,225.3 743.2,230.3 743.1,231.8 740.1,235.3 739.9,238.9 742.4,242.3 741.4,243.7 742.5,247.7 742.0,250.6 743.6,252.9 743.9,256.9 741.5,260.2 741.3,261.7 741.9,265.2 742.6,268.9 742.4,271.6 743.3,272.7 743.2,275.0 743.0,277.5 744.5,281.1 742.7,283.6 739.0,282.3 737.5,284.6 737.0,286.9 733.7,288.3 732.4,292.0 730.3,293.2 727.5,296.7 726.9,297.8 727.2,300.0 730.7,301.2 731.9,305.6 733.1,307.3 733.2,308.6 735.7,311.0" fill="none" stroke="#000" stroke-width="2.0" stroke-linejoin="round"/>
<polyline points="750.9,112.1 753.0,114.8 754.2,116.5 754.5,119.1 754.2,122.7 755.3,125.4 754.9,128.7 754.4,131.7 754.2,134.3 753.5,137.7 753.8,140.0 753.1,143.1 753.7,146.7 754.2,149.8 753.2,153.2 753.1,156.4 751.7,158.3 749.9,161.1 747.6,163.1 746.6,165.8 744.0,169.5 743.1,172.0 742.8,174.9 741.1,177.4 740.9,180.8 742.2,183.9 743.1,187.5 747.6,189.7" fill="none" stroke="#000" stroke-width="1.6" stroke-linejoin="round"/>
<polyline points="975.6,45.8 974.4,47.9 972.5,51.6 971.0,53.1 971.2,55.5 969.6,56.2 966.0,59.3 963.2,60.8 959.1,62.0 957.9,63.6 954.4,65.2 952.2,65.5 948.1,66.6 946.0,70.0 943.4,70.8 940.4,71.3 937.0,71.7 933.2,70.4 931.6,71.3 928.0,70.5 926.0,71.8 923.9,74.4 922.7,77.5 922.7,80.9 923.1,83.8 924.5,85.4 922.4,84.2 918.0,85.4 914.0,85.2 912.2,85.4 909.7,85.3 905.1,87.2 904.3,88.7 903.2,93.1 901.2,93.3 899.9,97.1 899.9,99.5 897.7,101.1 898.1,105.9 897.0,107.2 896.3,110.1 894.9,111.7 892.8,115.4 891.2,116.9 889.5,121.3 887.5,122.4 883.3,123.4 881.6,123.2 877.7,126.3 875.2,125.9 875.3,127.9 873.3,133.1 871.5,135.0 868.7,136.8 866.0,137.8 865.6,139.9 863.7,140.1 860.4,143.7 858.7,144.3 856.6,146.1 853.9,149.4 852.1,148.8 849.6,152.0 851.1,154.5 850.9,157.2 851.8,160.9 849.8,162.7 847.0,165.7 845.2,168.3 843.2,170.5 843.3,172.0 840.7,174.2 839.0,175.7 836.9,178.4 834.0,180.8 833.9,184.8 834.9,186.0 836.7,188.8 836.3,191.9 840.7,194.1 838.9,194.9 837.1,196.8 832.9,200.4 831.8,200.8 829.5,204.9 830.1,206.9 827.4,209.6 826.1,211.4 826.6,215.2 827.4,218.5 829.3,221.9 830.3,222.0 832.5,224.2 834.0,227.4 832.5,230.5 833.6,232.2 832.5,236.9 832.8,239.0 831.7,242.3 833.2,244.3 833.3,248.7 834.3,250.9 832.8,252.6 834.5,255.8 835.3,258.4 836.2,261.6 836.0,265.2 836.1,267.9 838.7,272.3 836.5,274.2 834.3,274.9 832.5,277.5 830.7,281.0 829.1,283.4 827.3,284.6" fill="none" stroke="#000" stroke-width="2.0" stroke-linejoin="round"/>
<polyline points="982.6,46.7 982.3,50.1 983.7,53.5 982.7,54.8 982.9,57.7 984.7,60.4 984.4,64.3 985.6,66.2 986.2,69.4 988.8,72.5 987.8,74.3 989.3,78.4 991.4,80.1 995.8,82.2 998.5,82.8 1002.3,82.5 1005.5,81.8 1007.3,80.1" fill="none" stroke="#000" stroke-width="2.0" stroke-linejoin="round"/>
<polygon points="624.0,222.6 625.5,221.2 632.2,221.9 634.5,217.8 639.7,218.2 646.4,215.2 654.7,211.4 656.9,208.8 662.9,206.9 667.4,203.9 674.1,199.5 677.9,196.5 680.1,190.1 683.8,192.3 689.1,195.0 689.8,198.7 686.8,202.4 678.6,206.9 671.9,208.4 669.6,211.4 660.6,215.2 652.4,218.2 644.9,222.6 639.7,226.4 632.2,227.1 627.7,226.4 624.4,226.8" fill="#000" stroke="#000" stroke-width="1.2" stroke-linejoin="round"/>
<line x1="668" y1="206" x2="670.5" y2="210.5" stroke="#fff" stroke-width="1"/>
<rect x="667" y="160.3" width="14" height="8.7" fill="#fff" stroke="#000" stroke-width="1.6"/>
<line x1="667" y1="169" x2="454" y2="381.7" stroke="#000" stroke-width="2"/>
<line x1="681" y1="169" x2="1110" y2="381.7" stroke="#000" stroke-width="2"/>
<rect x="454" y="381.7" width="656.2" height="441.8" fill="#fff" stroke="#000" stroke-width="2"/>
<polygon points="920.9,463.4 941.2,457.6 939.8,444.6 945.6,440.2 934.0,425.7 945.6,415.5 947.0,412.6 954.3,408.2 965.9,406.8 967.4,399.5 971.7,398.1 973.2,419.9 960.1,431.5 961.6,441.7 971.7,438.7 979.0,441.7 974.6,447.5 983.4,446.0 984.8,438.7 995.0,434.4 1003.7,438.7 1005.2,451.8 995.0,453.3 993.5,459.1 1005.2,462.0 1021.1,459.1 1029.9,464.9 1035.7,483.8 1053.1,496.9 1054.6,504.1 1041.5,508.5 1027.0,509.9 1012.4,514.3 980.5,492.5 963.0,473.6 941.2,499.8" fill="#cdcdcd" stroke="#1a1a1a" stroke-width="1.25" stroke-linejoin="round"/>
<polygon points="821.9,650.5 826.5,647.4 831.1,649.6 835.7,653.6 846.4,647.4 861.8,662.8 857.2,670.5 866.4,702.7 861.8,707.3 869.4,715.0 872.5,704.2 880.2,699.6 883.3,707.3 878.7,710.4 872.5,725.7 878.7,730.3 884.8,744.1 883.3,762.5 869.4,776.3 866.4,770.2 846.4,751.8 855.6,745.6 854.1,734.9 837.2,725.7 838.8,716.5 846.4,707.3 826.5,681.2 829.6,667.4 821.9,658.2" fill="#cdcdcd" stroke="#1a1a1a" stroke-width="1.25" stroke-linejoin="round"/>
<polygon points="517.3,680.4 520.0,676.4 532.1,674.5 542.9,687.1 549.6,680.4 555.0,684.5 567.1,689.8 560.4,697.9 549.6,700.6 548.3,710.0 553.7,711.4 552.3,731.6 556.4,737.0 564.5,741.0 552.3,743.7 551.0,749.1 557.7,780.1 538.9,803.0 524.0,782.8 513.3,789.5 499.8,781.4 516.0,780.1 521.3,765.3 534.8,749.1 536.2,737.0 542.9,735.6 540.2,726.2 534.8,724.9 529.4,693.9 528.1,684.5" fill="#cdcdcd" stroke="#1a1a1a" stroke-width="1.25" stroke-linejoin="round"/>
<polygon points="722.7,494.4 734.4,491.1 749.2,484.4 763.3,477.6 776.3,486.8 776.3,479.4 781.8,475.7 784.9,481.9 787.4,483.8 795.4,483.1 795.4,486.2 787.4,489.3 788.1,494.4 787.0,497.8 784.8,498.9 785.9,504.4 777.0,512.2 765.9,519.9 754.9,526.6 746.0,528.8 743.8,536.6 739.3,545.4 728.3,548.8 728.3,557.6 752.6,557.1 761.5,547.6 767.1,548.8 777.0,558.7 781.5,566.5 764.8,577.0 757.1,573.1 748.2,575.4 747.1,577.6 736.0,577.6 730.5,572.0 724.9,569.3 717.2,566.5 721.6,559.8 721.6,548.8 716.1,543.2 717.2,538.8 709.4,536.6 706.1,542.1 706.1,545.4 702.8,545.4 703.9,535.5 699.4,533.8 695.0,534.3 700.0,528.0 704.0,520.0 708.0,510.0 714.0,502.0" fill="#cdcdcd" stroke="#1a1a1a" stroke-width="1.25" stroke-linejoin="round"/>
<polygon points="722.7,501.1 730.5,506.6 736.0,514.4 737.7,522.1 733.8,522.7 735.5,524.4 732.7,531.0 722.7,534.3 708.3,525.5 707.2,517.7 711.6,512.2 713.8,507.7 710.5,504.4" fill="#fff" stroke="#1a1a1a" stroke-width="1.25" stroke-linejoin="round"/>
<polygon points="622.9,531.8 633.8,509.2 656.0,517.2 663.1,522.2 662.7,527.6 668.9,538.5 665.2,541.0 659.3,539.3 637.6,539.3" fill="#cdcdcd" stroke="#1a1a1a" stroke-width="1.25" stroke-linejoin="round"/>
<polygon points="666.0,507.5 668.5,505.0 683.6,510.9 686.5,504.2 701.6,508.8 700.3,511.7 696.1,515.1 692.8,517.6 686.9,518.8 671.9,511.3" fill="#cdcdcd" stroke="#1a1a1a" stroke-width="1.25" stroke-linejoin="round"/>
<polygon points="659.5,549.5 698.0,531.5 699.5,534.0 661.0,552.5" fill="#cdcdcd" stroke="#1a1a1a" stroke-width="0.9" stroke-linejoin="round"/>
<path d="M463.3,653.6 L464.9,652.9 L467.2,652.1 L469.8,651.0 L472.6,649.8 L475.2,648.5 L477.3,647.1 L479.0,645.6 L480.5,643.9 L481.8,642.1 L482.9,640.1 L484.0,638.1 L485.0,636.0 L486.0,633.8 L486.9,631.4 L487.7,629.0 L488.3,626.5 L488.8,623.9 L489.0,621.4 L488.9,618.8 L488.4,616.0 L487.8,613.3 L487.1,610.6 L486.4,608.1 L486.0,606.0 L485.7,604.3 L485.4,603.0 L485.2,602.0 L485.1,600.9 L485.2,599.7 L485.5,598.1 L486.1,596.0 L486.9,593.5 L487.8,590.8 L488.9,588.2 L490.1,585.9 L491.4,584.1 L492.4,583.0 L493.1,582.6 L493.9,582.4 L495.2,582.3 L497.4,581.7 L500.7,580.5 L505.9,578.4 L512.6,575.6 L520.3,572.4 L527.9,569.2 L534.9,566.4 L540.4,564.2 L544.0,562.6 L546.4,561.3 L548.1,560.3 L549.6,559.7 L551.5,559.4 L554.4,559.5 L558.6,560.2 L563.7,561.5 L569.2,563.2 L574.7,565.0 L579.6,566.6 L583.6,567.7 L586.4,568.4 L588.4,569.0 L589.8,569.4 L591.0,569.5 L592.4,569.4 L594.1,568.9 L596.2,567.9 L598.5,566.5 L600.8,564.8 L603.2,563.0 L605.7,561.1 L608.1,559.5 L610.6,558.0 L613.1,556.6 L615.6,555.2 L618.1,553.8 L620.7,552.3 L623.3,550.8 L625.9,549.1 L628.7,547.3 L631.4,545.4 L634.1,543.7 L636.7,542.1 L639.2,541.0 L641.6,540.3 L643.8,539.9 L646.0,539.8 L648.2,539.8 L650.3,539.9 L652.3,540.0 L654.4,540.2 L656.6,540.5 L658.7,540.9 L660.7,541.4 L662.3,541.7 L663.5,542.0" fill="none" stroke="#1a1a1a" stroke-width="4.2" stroke-linejoin="round" stroke-linecap="butt"/>
<path d="M463.3,653.6 L464.9,652.9 L467.2,652.1 L469.8,651.0 L472.6,649.8 L475.2,648.5 L477.3,647.1 L479.0,645.6 L480.5,643.9 L481.8,642.1 L482.9,640.1 L484.0,638.1 L485.0,636.0 L486.0,633.8 L486.9,631.4 L487.7,629.0 L488.3,626.5 L488.8,623.9 L489.0,621.4 L488.9,618.8 L488.4,616.0 L487.8,613.3 L487.1,610.6 L486.4,608.1 L486.0,606.0 L485.7,604.3 L485.4,603.0 L485.2,602.0 L485.1,600.9 L485.2,599.7 L485.5,598.1 L486.1,596.0 L486.9,593.5 L487.8,590.8 L488.9,588.2 L490.1,585.9 L491.4,584.1 L492.4,583.0 L493.1,582.6 L493.9,582.4 L495.2,582.3 L497.4,581.7 L500.7,580.5 L505.9,578.4 L512.6,575.6 L520.3,572.4 L527.9,569.2 L534.9,566.4 L540.4,564.2 L544.0,562.6 L546.4,561.3 L548.1,560.3 L549.6,559.7 L551.5,559.4 L554.4,559.5 L558.6,560.2 L563.7,561.5 L569.2,563.2 L574.7,565.0 L579.6,566.6 L583.6,567.7 L586.4,568.4 L588.4,569.0 L589.8,569.4 L591.0,569.5 L592.4,569.4 L594.1,568.9 L596.2,567.9 L598.5,566.5 L600.8,564.8 L603.2,563.0 L605.7,561.1 L608.1,559.5 L610.6,558.0 L613.1,556.6 L615.6,555.2 L618.1,553.8 L620.7,552.3 L623.3,550.8 L625.9,549.1 L628.7,547.3 L631.4,545.4 L634.1,543.7 L636.7,542.1 L639.2,541.0 L641.6,540.3 L643.8,539.9 L646.0,539.8 L648.2,539.8 L650.3,539.9 L652.3,540.0 L654.4,540.2 L656.6,540.5 L658.7,540.9 L660.7,541.4 L662.3,541.7 L663.5,542.0" fill="none" stroke="#fff" stroke-width="2.3" stroke-linejoin="round" stroke-linecap="butt"/>
<path d="M632.7,572.3 L633.9,572.1 L635.5,571.8 L637.5,571.4 L639.5,571.0 L641.4,570.3 L643.0,569.5 L644.2,568.4 L645.3,567.2 L646.2,565.8 L647.0,564.2 L647.8,562.7 L648.6,561.1 L649.3,559.5 L649.8,557.7 L650.2,555.9 L650.7,554.1 L651.4,552.4 L652.3,550.8 L653.5,549.3 L655.0,547.8 L656.5,546.4 L658.3,545.0 L660.0,543.8 L661.8,542.7 L663.5,541.9 L665.0,541.3 L666.7,540.8 L668.5,540.3 L670.7,539.6 L673.5,538.5 L677.1,536.9 L681.6,535.0 L686.4,532.8 L691.2,530.6 L695.4,528.5 L698.6,526.8 L700.7,525.4 L702.1,524.3 L703.0,523.2 L703.5,522.3 L703.9,521.3 L704.5,520.1 L705.1,518.8 L705.6,517.4 L705.9,516.0 L706.3,514.5 L706.6,513.1 L707.0,511.7 L707.4,510.4 L707.8,509.1 L708.2,507.8 L708.7,506.5 L709.3,505.3 L710.0,504.2 L710.8,503.2 L711.7,502.2 L712.7,501.3 L713.9,500.4 L715.4,499.6 L717.2,498.9 L719.4,498.2 L722.0,497.7 L724.8,497.2 L727.8,496.7 L730.8,496.2 L733.8,495.5 L736.9,494.7 L740.2,493.8 L743.5,492.9 L746.8,491.9 L749.9,490.9 L752.6,490.0 L754.9,489.0 L757.0,488.0 L758.9,486.9 L760.6,486.0 L762.3,485.3 L764.0,485.0 L765.7,485.2 L767.2,485.8 L768.8,486.6 L770.3,487.6 L772.0,488.5 L773.8,489.3 L775.9,490.0 L778.2,490.8 L780.6,491.6 L783.0,492.2 L785.3,492.5 L787.4,492.4 L789.0,491.9 L790.2,491.0 L791.2,489.9 L792.6,488.5 L794.5,486.9 L797.4,485.2 L801.7,483.0 L807.1,480.1 L813.1,477.0 L819.2,474.2 L824.8,471.9 L829.4,470.7 L832.9,470.9 L835.7,472.2 L838.1,474.2 L840.1,476.2 L842.0,477.6 L843.9,478.0 L845.7,477.1 L847.1,475.2 L848.4,472.9 L849.7,470.4 L851.0,468.0 L852.6,466.3 L854.3,465.1 L856.1,464.0 L857.9,463.1 L859.9,462.5 L862.0,462.1 L864.3,462.0 L866.8,462.1 L869.4,462.4 L872.1,463.0 L875.0,463.8 L878.2,464.9 L881.7,466.3 L885.4,468.4 L889.4,471.3 L893.7,474.4 L898.1,477.4 L902.8,479.7 L907.8,480.9 L913.1,480.9 L918.8,480.0 L924.7,478.5 L930.7,476.5 L936.8,474.3 L942.7,472.2 L948.8,469.7 L955.2,466.7 L961.6,463.4 L967.7,460.3 L973.1,457.8 L977.6,456.2 L980.6,455.3 L982.2,454.8 L983.2,454.9 L984.3,455.7 L986.0,457.5 L989.2,460.5 L994.1,465.5 L1000.2,472.4 L1007.0,480.3 L1014.1,488.2 L1020.9,495.0 L1027.0,499.8 L1032.4,502.3 L1037.5,503.3 L1042.4,503.3 L1047.1,502.7 L1051.6,501.8 L1056.0,501.2 L1060.3,500.7 L1064.4,500.0 L1068.4,499.0 L1072.2,497.9 L1075.8,496.7 L1079.2,495.4 L1082.5,493.8 L1085.7,491.9 L1088.7,489.9 L1091.3,488.0 L1093.5,486.4 L1095.2,485.2" fill="none" stroke="#1a1a1a" stroke-width="4.2" stroke-linejoin="round" stroke-linecap="butt"/>
<path d="M632.7,572.3 L633.9,572.1 L635.5,571.8 L637.5,571.4 L639.5,571.0 L641.4,570.3 L643.0,569.5 L644.2,568.4 L645.3,567.2 L646.2,565.8 L647.0,564.2 L647.8,562.7 L648.6,561.1 L649.3,559.5 L649.8,557.7 L650.2,555.9 L650.7,554.1 L651.4,552.4 L652.3,550.8 L653.5,549.3 L655.0,547.8 L656.5,546.4 L658.3,545.0 L660.0,543.8 L661.8,542.7 L663.5,541.9 L665.0,541.3 L666.7,540.8 L668.5,540.3 L670.7,539.6 L673.5,538.5 L677.1,536.9 L681.6,535.0 L686.4,532.8 L691.2,530.6 L695.4,528.5 L698.6,526.8 L700.7,525.4 L702.1,524.3 L703.0,523.2 L703.5,522.3 L703.9,521.3 L704.5,520.1 L705.1,518.8 L705.6,517.4 L705.9,516.0 L706.3,514.5 L706.6,513.1 L707.0,511.7 L707.4,510.4 L707.8,509.1 L708.2,507.8 L708.7,506.5 L709.3,505.3 L710.0,504.2 L710.8,503.2 L711.7,502.2 L712.7,501.3 L713.9,500.4 L715.4,499.6 L717.2,498.9 L719.4,498.2 L722.0,497.7 L724.8,497.2 L727.8,496.7 L730.8,496.2 L733.8,495.5 L736.9,494.7 L740.2,493.8 L743.5,492.9 L746.8,491.9 L749.9,490.9 L752.6,490.0 L754.9,489.0 L757.0,488.0 L758.9,486.9 L760.6,486.0 L762.3,485.3 L764.0,485.0 L765.7,485.2 L767.2,485.8 L768.8,486.6 L770.3,487.6 L772.0,488.5 L773.8,489.3 L775.9,490.0 L778.2,490.8 L780.6,491.6 L783.0,492.2 L785.3,492.5 L787.4,492.4 L789.0,491.9 L790.2,491.0 L791.2,489.9 L792.6,488.5 L794.5,486.9 L797.4,485.2 L801.7,483.0 L807.1,480.1 L813.1,477.0 L819.2,474.2 L824.8,471.9 L829.4,470.7 L832.9,470.9 L835.7,472.2 L838.1,474.2 L840.1,476.2 L842.0,477.6 L843.9,478.0 L845.7,477.1 L847.1,475.2 L848.4,472.9 L849.7,470.4 L851.0,468.0 L852.6,466.3 L854.3,465.1 L856.1,464.0 L857.9,463.1 L859.9,462.5 L862.0,462.1 L864.3,462.0 L866.8,462.1 L869.4,462.4 L872.1,463.0 L875.0,463.8 L878.2,464.9 L881.7,466.3 L885.4,468.4 L889.4,471.3 L893.7,474.4 L898.1,477.4 L902.8,479.7 L907.8,480.9 L913.1,480.9 L918.8,480.0 L924.7,478.5 L930.7,476.5 L936.8,474.3 L942.7,472.2 L948.8,469.7 L955.2,466.7 L961.6,463.4 L967.7,460.3 L973.1,457.8 L977.6,456.2 L980.6,455.3 L982.2,454.8 L983.2,454.9 L984.3,455.7 L986.0,457.5 L989.2,460.5 L994.1,465.5 L1000.2,472.4 L1007.0,480.3 L1014.1,488.2 L1020.9,495.0 L1027.0,499.8 L1032.4,502.3 L1037.5,503.3 L1042.4,503.3 L1047.1,502.7 L1051.6,501.8 L1056.0,501.2 L1060.3,500.7 L1064.4,500.0 L1068.4,499.0 L1072.2,497.9 L1075.8,496.7 L1079.2,495.4 L1082.5,493.8 L1085.7,491.9 L1088.7,489.9 L1091.3,488.0 L1093.5,486.4 L1095.2,485.2" fill="none" stroke="#fff" stroke-width="2.3" stroke-linejoin="round" stroke-linecap="butt"/>
<path d="M776.0,403.2 L776.8,419.2" fill="none" stroke="#1a1a1a" stroke-width="4.2" stroke-linejoin="round" stroke-linecap="butt"/>
<path d="M776.0,403.2 L776.8,419.2" fill="none" stroke="#fff" stroke-width="2.3" stroke-linejoin="round" stroke-linecap="butt"/>
<path d="M773.8,451.3 L773.7,452.8 L773.6,454.9 L773.5,457.3 L773.4,459.9 L773.5,462.4 L773.8,464.6 L774.3,466.4 L774.9,467.9 L775.7,469.3 L776.6,470.7 L777.6,472.4 L778.7,474.5 L780.0,477.2 L781.6,480.5 L783.4,484.1 L785.0,487.5 L786.4,490.4 L787.4,492.4" fill="none" stroke="#1a1a1a" stroke-width="4.2" stroke-linejoin="round" stroke-linecap="butt"/>
<path d="M773.8,451.3 L773.7,452.8 L773.6,454.9 L773.5,457.3 L773.4,459.9 L773.5,462.4 L773.8,464.6 L774.3,466.4 L774.9,467.9 L775.7,469.3 L776.6,470.7 L777.6,472.4 L778.7,474.5 L780.0,477.2 L781.6,480.5 L783.4,484.1 L785.0,487.5 L786.4,490.4 L787.4,492.4" fill="none" stroke="#fff" stroke-width="2.3" stroke-linejoin="round" stroke-linecap="butt"/>
<path d="M620.5,579.8 L620.1,580.7 L619.5,582.0 L618.9,583.5 L618.1,585.1 L617.1,586.6 L616.0,588.0 L614.7,589.2 L613.2,590.2 L611.6,591.2 L609.8,592.3 L608.0,593.3 L606.0,594.5 L603.8,595.7 L601.3,597.0 L598.6,598.3 L596.1,599.6 L593.7,601.1 L591.8,602.7 L590.3,604.4 L589.0,606.3 L587.9,608.3 L587.0,610.3 L586.4,612.3 L585.9,614.4 L585.7,616.6 L585.8,619.1 L586.1,621.5 L586.5,623.8 L586.9,625.8 L587.1,627.2" fill="none" stroke="#1a1a1a" stroke-width="4.2" stroke-linejoin="round" stroke-linecap="butt"/>
<path d="M620.5,579.8 L620.1,580.7 L619.5,582.0 L618.9,583.5 L618.1,585.1 L617.1,586.6 L616.0,588.0 L614.7,589.2 L613.2,590.2 L611.6,591.2 L609.8,592.3 L608.0,593.3 L606.0,594.5 L603.8,595.7 L601.3,597.0 L598.6,598.3 L596.1,599.6 L593.7,601.1 L591.8,602.7 L590.3,604.4 L589.0,606.3 L587.9,608.3 L587.0,610.3 L586.4,612.3 L585.9,614.4 L585.7,616.6 L585.8,619.1 L586.1,621.5 L586.5,623.8 L586.9,625.8 L587.1,627.2" fill="none" stroke="#fff" stroke-width="2.3" stroke-linejoin="round" stroke-linecap="butt"/>
<path d="M582.4,659.5 L581.1,661.6 L579.2,664.5 L577.0,667.9 L574.7,671.5 L572.5,674.8 L570.7,677.5 L569.4,679.5 L568.3,681.1 L567.4,682.5 L566.5,683.8 L565.3,685.2 L563.7,686.8 L561.5,688.8 L558.7,690.9 L555.7,693.1 L552.8,695.3 L550.2,697.4 L548.3,699.3 L547.1,700.6 L546.3,701.3 L545.9,701.9 L545.7,702.8 L545.7,704.5 L545.6,707.3 L545.7,711.9 L546.0,717.9 L546.5,724.7 L546.9,731.5 L547.1,737.6 L546.9,742.4 L546.4,745.6 L545.6,747.7 L544.6,749.1 L543.4,750.2 L542.0,751.4 L540.2,753.1 L538.0,755.2 L535.2,757.3 L532.2,759.5 L529.1,761.8 L526.3,764.2 L524.0,766.6 L522.2,769.3 L520.8,772.4 L519.7,775.5 L518.6,778.4 L517.4,780.9 L516.0,782.8 L514.4,783.9 L512.6,784.3 L510.8,784.4 L508.9,784.2 L507.0,784.0 L505.2,784.1 L503.4,784.2 L501.5,784.3 L499.6,784.3 L497.8,784.4 L496.0,784.8 L494.4,785.5 L492.8,786.7 L491.2,788.4 L489.7,790.3 L488.3,792.2 L487.1,793.8 L486.3,794.9" fill="none" stroke="#1a1a1a" stroke-width="4.2" stroke-linejoin="round" stroke-linecap="butt"/>
<path d="M582.4,659.5 L581.1,661.6 L579.2,664.5 L577.0,667.9 L574.7,671.5 L572.5,674.8 L570.7,677.5 L569.4,679.5 L568.3,681.1 L567.4,682.5 L566.5,683.8 L565.3,685.2 L563.7,686.8 L561.5,688.8 L558.7,690.9 L555.7,693.1 L552.8,695.3 L550.2,697.4 L548.3,699.3 L547.1,700.6 L546.3,701.3 L545.9,701.9 L545.7,702.8 L545.7,704.5 L545.6,707.3 L545.7,711.9 L546.0,717.9 L546.5,724.7 L546.9,731.5 L547.1,737.6 L546.9,742.4 L546.4,745.6 L545.6,747.7 L544.6,749.1 L543.4,750.2 L542.0,751.4 L540.2,753.1 L538.0,755.2 L535.2,757.3 L532.2,759.5 L529.1,761.8 L526.3,764.2 L524.0,766.6 L522.2,769.3 L520.8,772.4 L519.7,775.5 L518.6,778.4 L517.4,780.9 L516.0,782.8 L514.4,783.9 L512.6,784.3 L510.8,784.4 L508.9,784.2 L507.0,784.0 L505.2,784.1 L503.4,784.2 L501.5,784.3 L499.6,784.3 L497.8,784.4 L496.0,784.8 L494.4,785.5 L492.8,786.7 L491.2,788.4 L489.7,790.3 L488.3,792.2 L487.1,793.8 L486.3,794.9" fill="none" stroke="#fff" stroke-width="2.3" stroke-linejoin="round" stroke-linecap="butt"/>
<path d="M663.5,542.0 L664.8,543.0 L666.7,544.3 L668.9,545.9 L671.1,547.6 L673.1,549.3 L674.7,550.8 L675.8,552.1 L676.6,553.3 L677.2,554.5 L677.6,555.8 L678.0,557.3 L678.4,559.2 L678.7,561.7 L678.9,564.6 L679.0,567.8 L679.0,571.0 L679.2,573.8 L679.4,576.0 L679.7,577.5 L680.1,578.4 L680.5,579.1 L680.9,579.5 L681.5,580.0 L682.2,580.7 L683.0,581.6 L683.9,582.6 L684.9,583.6 L686.0,584.6 L687.3,585.5 L688.7,586.3 L690.3,586.9 L692.1,587.4 L694.0,587.8 L696.0,588.2 L698.3,588.6 L700.7,589.2 L703.5,589.9 L706.8,590.6 L710.3,591.4 L713.6,592.2 L716.7,593.0 L719.1,593.8 L720.6,594.3 L721.2,594.5 L721.6,594.8 L722.0,595.3 L723.1,596.4 L725.2,598.4 L728.8,601.8 L733.7,606.4 L739.2,611.6 L744.6,616.7 L749.4,621.2 L752.8,624.4 L754.8,626.1 L755.8,626.8 L756.1,626.8 L756.0,626.5 L755.8,626.1 L755.9,626.0" fill="none" stroke="#1a1a1a" stroke-width="4.2" stroke-linejoin="round" stroke-linecap="butt"/>
<path d="M663.5,542.0 L664.8,543.0 L666.7,544.3 L668.9,545.9 L671.1,547.6 L673.1,549.3 L674.7,550.8 L675.8,552.1 L676.6,553.3 L677.2,554.5 L677.6,555.8 L678.0,557.3 L678.4,559.2 L678.7,561.7 L678.9,564.6 L679.0,567.8 L679.0,571.0 L679.2,573.8 L679.4,576.0 L679.7,577.5 L680.1,578.4 L680.5,579.1 L680.9,579.5 L681.5,580.0 L682.2,580.7 L683.0,581.6 L683.9,582.6 L684.9,583.6 L686.0,584.6 L687.3,585.5 L688.7,586.3 L690.3,586.9 L692.1,587.4 L694.0,587.8 L696.0,588.2 L698.3,588.6 L700.7,589.2 L703.5,589.9 L706.8,590.6 L710.3,591.4 L713.6,592.2 L716.7,593.0 L719.1,593.8 L720.6,594.3 L721.2,594.5 L721.6,594.8 L722.0,595.3 L723.1,596.4 L725.2,598.4 L728.8,601.8 L733.7,606.4 L739.2,611.6 L744.6,616.7 L749.4,621.2 L752.8,624.4 L754.8,626.1 L755.8,626.8 L756.1,626.8 L756.0,626.5 L755.8,626.1 L755.9,626.0" fill="none" stroke="#fff" stroke-width="2.3" stroke-linejoin="round" stroke-linecap="butt"/>
<path d="M463.3,653.6 L464.9,652.9 L467.2,652.1 L469.8,651.0 L472.6,649.8 L475.2,648.5 L477.3,647.1 L479.0,645.6 L480.5,643.9 L481.8,642.1 L482.9,640.1 L484.0,638.1 L485.0,636.0 L485.9,633.6 L486.8,630.9 L487.5,628.0 L488.1,625.3 L488.6,623.0 L489.0,621.4" fill="none" stroke="#000" stroke-width="3.9" stroke-linejoin="round" stroke-linecap="butt"/>
<path d="M500.7,580.5 L540.4,564.2" fill="none" stroke="#000" stroke-width="3.9" stroke-linejoin="round" stroke-linecap="butt"/>
<path d="M583.6,567.7 L584.7,568.0 L586.2,568.4 L588.0,568.9 L590.0,569.2 L592.0,569.3 L594.1,568.9 L596.2,567.9 L598.5,566.5 L600.8,564.8 L603.2,563.0 L605.7,561.1 L608.1,559.5 L610.7,557.9 L613.6,556.2 L616.6,554.6 L619.3,553.0 L621.6,551.7 L623.3,550.8" fill="none" stroke="#000" stroke-width="3.9" stroke-linejoin="round" stroke-linecap="butt"/>
<path d="M665.4,542.4 L666.5,543.3 L668.0,544.6 L669.8,546.1 L671.7,547.7 L673.4,549.3 L674.7,550.8 L675.7,552.1 L676.4,553.3 L677.1,554.5 L677.6,555.8 L678.0,557.3 L678.4,559.2 L678.7,561.7 L678.9,564.6 L679.0,567.8 L679.0,571.0 L679.2,573.8 L679.4,576.0 L679.8,577.5 L680.3,578.6 L680.9,579.4 L681.4,579.9 L681.9,580.3 L682.2,580.7" fill="none" stroke="#000" stroke-width="3.9" stroke-linejoin="round" stroke-linecap="butt"/>
<path d="M725.2,598.4 L752.8,624.4 L755.9,626.0" fill="none" stroke="#000" stroke-width="3.9" stroke-linejoin="round" stroke-linecap="butt"/>
<path d="M705.0,564.3 L711.6,562.1 L714.5,566.0 L713.8,576.5 L710.5,583.1" fill="none" stroke="#1a1a1a" stroke-width="3.8" stroke-linejoin="round" stroke-linecap="butt"/>
<path d="M705.0,564.3 L711.6,562.1 L714.5,566.0 L713.8,576.5 L710.5,583.1" fill="none" stroke="#fff" stroke-width="1.8" stroke-linejoin="round" stroke-linecap="butt"/>
<line x1="669.4" y1="538.5" x2="694.4" y2="527.5" stroke="#555" stroke-width="2" stroke-dasharray="0.8,0.8"/>
<circle cx="619.6" cy="567.2" r="12.8" fill="#fff" stroke="#000" stroke-width="1.2"/>
<text x="619.6" y="575.4000000000001" text-anchor="middle" font-family="Liberation Sans, sans-serif" font-size="24.5">1</text>
<circle cx="775.9" cy="604.5" r="12.8" fill="#fff" stroke="#000" stroke-width="1.2"/>
<text x="775.9" y="612.7" text-anchor="middle" font-family="Liberation Sans, sans-serif" font-size="24.5">2</text>
<polygon points="759,623.5 765,623.5 763,618" fill="#000"/>
<rect x="743.2" y="419.2" width="64.5" height="32.1" fill="#fff" stroke="#333" stroke-width="1.2"/>
<text x="775" y="444.3" text-anchor="middle" font-family="Liberation Sans, sans-serif" font-size="25.5">8219</text>
<rect x="558.4" y="627.2" width="64.2" height="32.3" fill="#fff" stroke="#333" stroke-width="1.2"/>
<text x="590.3" y="651.8" text-anchor="middle" font-family="Liberation Sans, sans-serif" font-size="25.5">8216</text>
<text x="639" y="484.6" font-family="Liberation Sans, sans-serif" font-size="25.5">Dudar</text>
<text x="912" y="542" font-family="Liberation Sans, sans-serif" font-size="25.5">Csetény</text>
<text x="678.5" y="710.4" font-family="Liberation Sans, sans-serif" font-size="25.5">Bakonynána</text>
<text x="563.5" y="767.4" font-family="Liberation Sans, sans-serif" font-size="25.5">Nagyesztergár</text>
<text x="599" y="408.5" font-family="Liberation Sans, sans-serif" font-size="25.5">N 47°18'07.2"</text>
<text x="951.5" y="608.7" font-family="Liberation Sans, sans-serif" font-size="25.5">E 17°54'50.6"</text>
<line x1="590.5" y1="381" x2="590.5" y2="398.6" stroke="#000" stroke-width="2"/>
<line x1="1093.8" y1="568.6" x2="1110" y2="568.6" stroke="#000" stroke-width="2"/>
<text x="500" y="421.7" text-anchor="middle" font-family="Liberation Sans, sans-serif" font-size="26">N</text>
<polygon points="499.6,426.6 487.4,458.4 499.6,451" fill="#fff" stroke="#000" stroke-width="1"/>
<polygon points="499.6,426.6 511.9,458.4 499.6,451" fill="#000" stroke="#000" stroke-width="1"/>
<rect x="1032.2" y="794" width="60" height="7.5" fill="#000"/>
<text x="1035" y="788.5" font-family="Liberation Sans, sans-serif" font-size="25.5">1 km</text>
</svg>
</body></html>
